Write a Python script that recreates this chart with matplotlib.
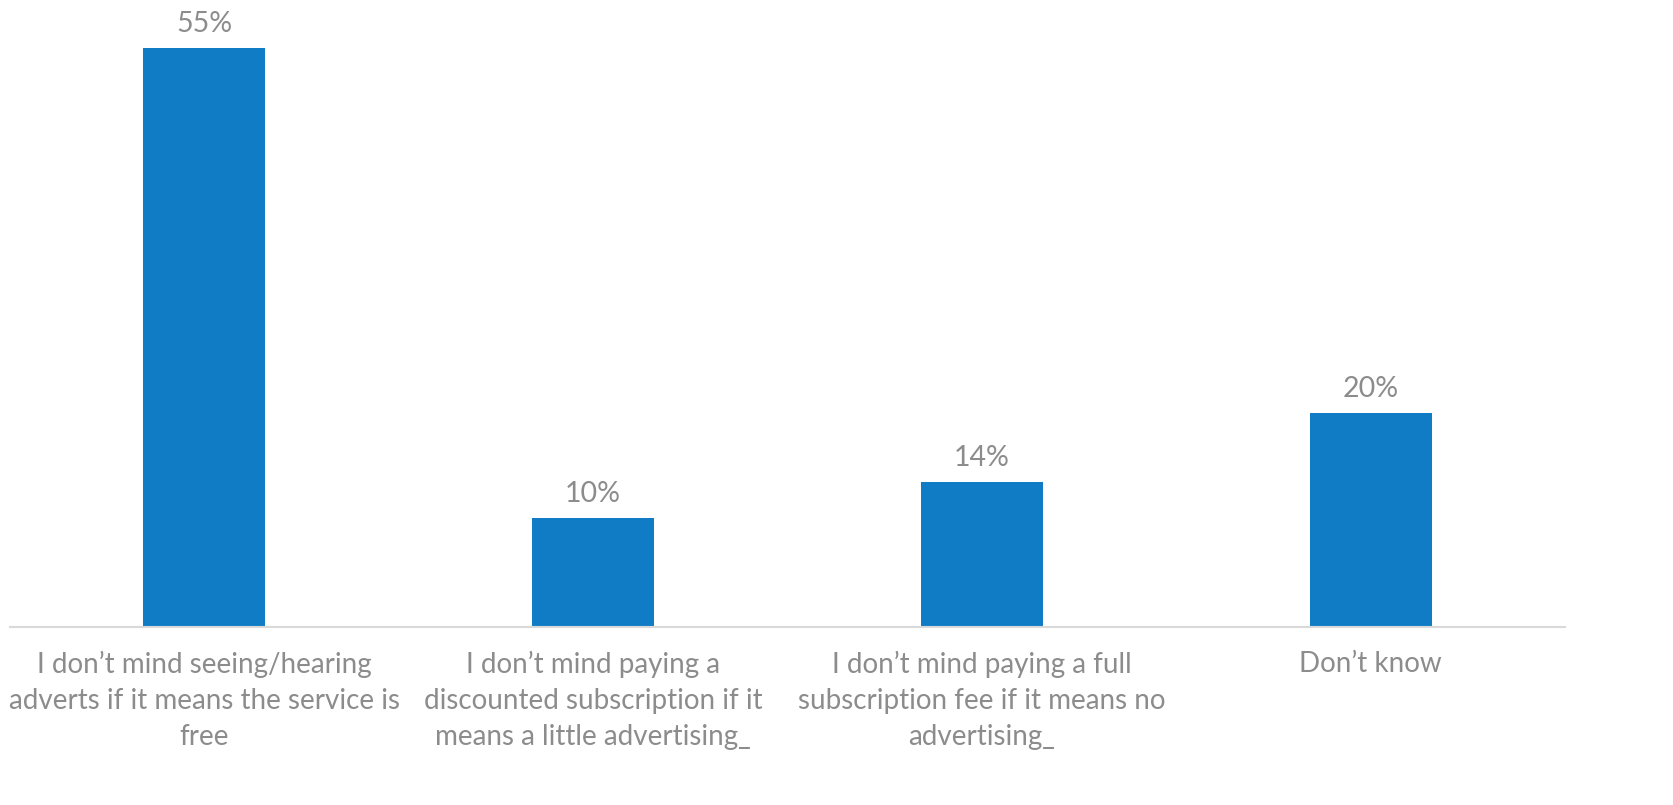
import matplotlib
matplotlib.use("Agg")
import matplotlib.pyplot as plt

categories = [
    "I don\u2019t mind seeing/hearing\nadverts if it means the service is\nfree",
    "I don\u2019t mind paying a\ndiscounted subscription if it\nmeans a little advertising_",
    "I don\u2019t mind paying a full\nsubscription fee if it means no\nadvertising_",
    "Don\u2019t know",
]
values = [55, 10.35, 13.8, 20.3]

plt.rcParams['font.family'] = ['Lato', 'DejaVu Sans']

fig = plt.figure(figsize=(16.73, 8.05), dpi=100)
ax = fig.add_axes([10/1673, 1 - 627/805, 1555/1673, (627-48)/805])

x = list(range(len(categories)))
bars = ax.bar(x, values, width=0.314, color="#117CC6", zorder=2)
ax.set_xlim(-0.5, 3.5)
ax.set_ylim(0, 55)

for xi, v in zip(x, values):
    ax.annotate(f"{v:.0f}%", (xi, v), xytext=(0, 8), textcoords="offset points",
                ha="center", va="bottom", fontsize=20.5, color="#8C8C8C", clip_on=False)

ax.set_xticks(x)
ax.set_xticklabels(categories, fontsize=20, color="#8C8C8C", linespacing=1.48)
ax.tick_params(axis="x", length=0, pad=17)
ax.set_yticks([])
for s in ["top", "right", "left"]:
    ax.spines[s].set_visible(False)
ax.spines["bottom"].set_color("#D9D9D9")
ax.spines["bottom"].set_linewidth(1.5)

fig.savefig("out.png", dpi=100)
